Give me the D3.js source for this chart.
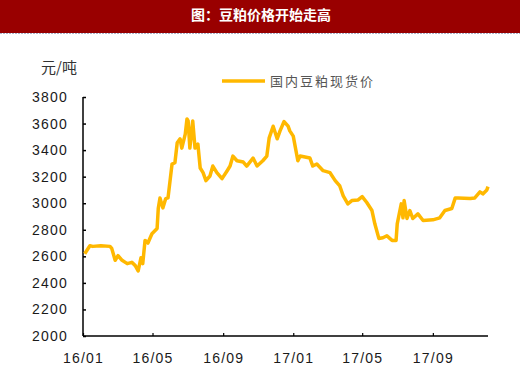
<!DOCTYPE html>
<html>
<head>
<meta charset="utf-8">
<script src="https://cdn.jsdelivr.net/npm/d3@7"></script>
<style>
  body { margin: 0; background: #fff; }
  text { font-family: "Liberation Sans", Arial, sans-serif; }
</style>
</head>
<body>
<svg id="chart"></svg>
<script>
// soybean meal spot price, yuan/ton
let dates = ["2016-01-04","2016-01-13","2016-01-18","2016-02-01","2016-02-17","2016-02-20","2016-02-26","2016-03-02","2016-03-09","2016-03-18",
    "2016-03-26","2016-04-01","2016-04-06","2016-04-11","2016-04-14","2016-04-18","2016-04-23","2016-04-30","2016-05-09","2016-05-11",
    "2016-05-14","2016-05-19","2016-05-24","2016-05-28","2016-06-04","2016-06-09","2016-06-13","2016-06-18","2016-06-21","2016-06-27",
    "2016-06-30","2016-07-02","2016-07-05","2016-07-10","2016-07-14","2016-07-19","2016-07-23","2016-07-28","2016-08-02","2016-08-09",
    "2016-08-14","2016-08-21","2016-08-30","2016-09-08","2016-09-13","2016-09-18","2016-09-25","2016-10-06","2016-10-12","2016-10-23",
    "2016-10-30","2016-11-09","2016-11-16","2016-11-20","2016-11-27","2016-12-04","2016-12-09","2016-12-16","2016-12-23","2016-12-26",
    "2017-01-01","2017-01-09","2017-01-13","2017-01-30","2017-02-04","2017-02-11","2017-02-22","2017-03-06","2017-03-15","2017-03-23",
    "2017-03-29","2017-04-06","2017-04-13","2017-04-24","2017-05-01","2017-05-09","2017-05-18","2017-05-23","2017-05-30","2017-06-06",
    "2017-06-13","2017-06-18","2017-06-22","2017-06-29","2017-07-01","2017-07-08","2017-07-11","2017-07-13","2017-07-18","2017-07-23",
    "2017-07-28","2017-08-06","2017-08-15","2017-09-01","2017-09-13","2017-09-22","2017-10-04","2017-10-10","2017-10-15","2017-11-05",
    "2017-11-13","2017-11-22","2017-11-27","2017-12-04","2017-12-06"];
let prices = [2620,2680,2675,2680,2675,2660,2570,2605,2570,2545,
    2555,2530,2490,2590,2545,2720,2700,2770,2810,2960,
    3040,2965,3035,3040,3295,3305,3455,3485,3415,3520,
    3635,3620,3415,3620,3415,3445,3265,3230,3170,3205,
    3280,3230,3185,3245,3280,3355,3320,3310,3280,3340,
    3280,3320,3355,3490,3580,3485,3545,3615,3580,3545,
    3505,3320,3355,3340,3280,3295,3245,3230,3170,3130,
    3055,2995,3020,3025,3050,3005,2945,2845,2735,2740,
    2755,2735,2720,2720,2845,2995,2890,3020,2885,2945,
    2885,2920,2870,2875,2890,2945,2960,3040,3040,3035,
    3040,3085,3070,3100,3125];

let yTicks = [2000,2200,2400,2600,2800,3000,3200,3400,3600,3800];
let xTicks = ["2016-01-01","2016-05-01","2016-09-01","2017-01-01","2017-05-01","2017-09-01"];

let W = 520, H = 376;
let parse = d3.timeParse("%Y-%m-%d");

let data = dates.map((d, i) => ({date: parse(d), value: prices[i]}));

let svg = d3.select("#chart").attr("width", W).attr("height", H);

// title bar
svg.append("rect")
    .attr("x", 0).attr("y", 0)
    .attr("width", W).attr("height", 33)
    .attr("fill", "#990000");
svg.append("line")
    .attr("x1", 0).attr("x2", W)
    .attr("y1", 33.5).attr("y2", 33.5)
    .attr("stroke", "#aab4cc")
    .attr("stroke-dasharray", "2,1");
svg.append("text")
    .attr("x", 261).attr("y", 20)
    .attr("text-anchor", "middle")
    .style("font-family", "'Noto Sans CJK SC', sans-serif")
    .style("font-size", "14px")
    .style("font-weight", "bold")
    .attr("fill", "#fff")
    .text("图：豆粕价格开始走高");

let x = d3.scaleTime()
    .domain([parse("2016-01-01"), parse("2017-12-06")])
    .range([83, 488]);
let y = d3.scaleLinear()
    .domain([2000, 3800])
    .range([336, 97]);

// y axis
let yAxis = svg.append("g")
    .attr("transform", "translate(83,0)")
    .call(d3.axisRight(y).tickValues(yTicks).tickSize(3).tickFormat(d3.format("d")));
yAxis.select(".domain").attr("stroke", "#000").attr("stroke-width", 1.5).attr("d", `M0,${y(3800)}V${y(2000)}`);
yAxis.selectAll(".tick line").attr("stroke", "#000").attr("stroke-width", 1.5);
yAxis.selectAll(".tick text")
    .attr("x", -15)
    .attr("text-anchor", "end")
    .style("font-size", "14px")
    .style("letter-spacing", "1.2px")
    .attr("fill", "#1a1a1a");

// x axis
let xAxis = svg.append("g")
    .attr("transform", "translate(0,336)")
    .call(d3.axisTop(x).tickValues(xTicks.map(parse)).tickSize(3).tickFormat(d3.timeFormat("%y/%m")));
xAxis.select(".domain").attr("stroke", "#000").attr("stroke-width", 1.5).attr("d", "M83,0H488");
xAxis.selectAll(".tick line").attr("stroke", "#000").attr("stroke-width", 1.2);
xAxis.selectAll(".tick text")
    .attr("y", 27)
    .attr("dy", 0)
    .style("font-size", "14px")
    .style("letter-spacing", "1.2px")
    .attr("fill", "#1a1a1a");

// unit label
svg.append("text")
    .attr("x", 41).attr("y", 73)
    .style("font-family", "'Noto Sans CJK SC', sans-serif")
    .style("font-size", "15px")
    .attr("fill", "#333")
    .text("元/吨");

// price line
let line = d3.line()
    .x(d => x(d.date))
    .y(d => y(d.value));

svg.append("path")
    .datum(data)
    .attr("fill", "none")
    .attr("stroke", "#FFB800")
    .attr("stroke-width", 3.5)
    .attr("stroke-linejoin", "round")
    .attr("d", line);

// legend
svg.append("line")
    .attr("x1", 222).attr("x2", 265)
    .attr("y1", 81).attr("y2", 81)
    .attr("stroke", "#FFB800")
    .attr("stroke-width", 3.5);
svg.append("text")
    .attr("x", 270).attr("y", 86)
    .style("font-family", "'Noto Sans CJK SC', sans-serif")
    .style("font-size", "13px")
    .style("letter-spacing", "2px")
    .attr("fill", "#555")
    .text("国内豆粕现货价");
</script>
</body>
</html>
